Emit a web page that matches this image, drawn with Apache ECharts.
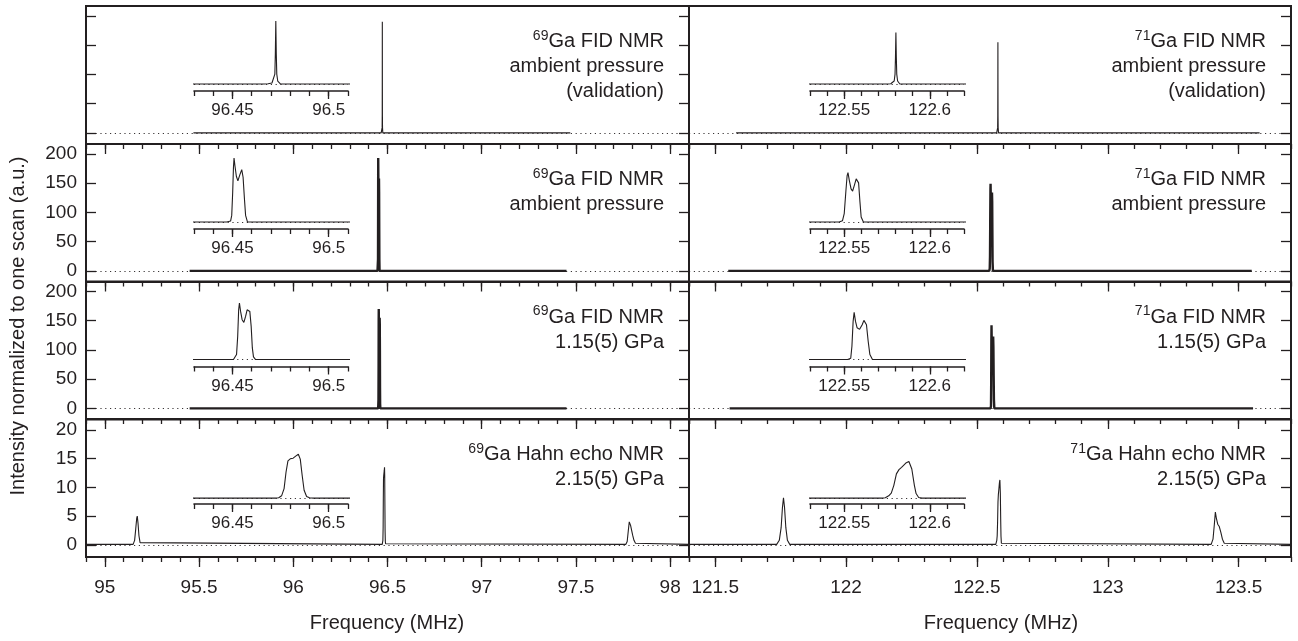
<!DOCTYPE html>
<html>
<head>
<meta charset="utf-8">
<script src="https://cdn.jsdelivr.net/npm/echarts@6/dist/echarts.min.js"></script>
<style>
  html, body { margin: 0; padding: 0; background: #fff; }
  #chart { width: 1298px; height: 641px; }
</style>
</head>
<body>
<div id="chart"></div>
<script>
// ---- axis extents and tick values (MHz / a.u.) ----
const ga69Range = [94.9, 98.1];
const ga71Range = [121.4, 123.7];
const ga69MajorTicks = [95, 95.5, 96, 96.5, 97, 97.5, 98];
const ga71MajorTicks = [121.5, 122, 122.5, 123, 123.5];
const ga69InsetRange = [96.43, 96.51];
const ga71InsetRange = [122.53, 122.62];
const ga69InsetLabels = [96.45, 96.5];
const ga71InsetLabels = [122.55, 122.6];
const fidRange = [-19, 217];
const echoRange = [-2.1, 21.9];
const fidTicks = [0, 50, 100, 150, 200];
const echoTicks = [0, 5, 10, 15, 20];
const fidInsetRange = [-21, 196];
const echoInsetRange = [-1.7, 20.3];

// ---- spectra: [frequency (MHz), intensity (a.u.)] ----
const ga69Valid = [
  [95.47, 0], [96.4665, 0], [96.4685, 1], [96.4705, 3], [96.4715, 9], [96.4720, 30], [96.47225, 90],
  [96.4725, 190], [96.47275, 90], [96.4730, 30], [96.4735, 9], [96.4750, 0], [97.47, 0]
];
const ga69Ambient = [
  [95.45, 0], [96.4470, 0], [96.4480, 1], [96.4490, 3], [96.4496, 20], [96.4501, 90], [96.4505, 165],
  [96.4508, 193], [96.4513, 168], [96.4520, 138], [96.4528, 124], [96.4538, 142],
  [96.4548, 158], [96.4555, 135], [96.4562, 70], [96.4568, 20], [96.4578, 0], [97.45, 0]
];
const ga69Gpa115 = [
  [95.45, 0], [96.4505, 0], [96.4515, 2], [96.4521, 15], [96.4527, 70], [96.4532, 150], [96.4536, 170],
  [96.4542, 145], [96.4550, 120], [96.4559, 112], [96.4568, 130], [96.4576, 150],
  [96.4583, 155], [96.4590, 145], [96.4597, 100], [96.4603, 35], [96.4609, 8], [96.4620, 0],
  [97.45, 0]
];
const ga69Echo = [
  [94.9, 0.1], [95.150, 0.1], [95.158, 0.8], [95.164, 2.8], [95.169, 4.6], [95.172, 5.0],
  [95.176, 3.8], [95.181, 1.6], [95.187, 0.4], [95.195, 0.1],
  [96.4720, 0.1], [96.4740, 0.2], [96.4755, 0.8], [96.4768, 3], [96.4778, 8], [96.4788, 11.5],
  [96.4800, 12.1], [96.4815, 12.3], [96.4830, 13.0], [96.4842, 13.5], [96.4852, 12], [96.4862, 7],
  [96.4872, 2.5], [96.4885, 0.6], [96.4900, 0.2], [96.4920, 0.1],
  [97.765, 0.1], [97.772, 0.6], [97.778, 2.5], [97.783, 4.0], [97.786, 4.3], [97.790, 3.4],
  [97.795, 2.6], [97.801, 1.7], [97.808, 0.8], [97.816, 0.3], [97.825, 0.1], [98.1, 0.1]
];
const ga71Valid = [
  [121.58, 0], [122.5755, 0], [122.5772, 1], [122.5782, 3], [122.5792, 9], [122.5797, 30], [122.57995, 80],
  [122.5802, 155], [122.58045, 80], [122.5807, 30], [122.5812, 9], [122.5825, 0], [123.58, 0]
];
const ga71Ambient = [
  [121.55, 0], [122.5470, 0], [122.5480, 1], [122.5490, 4], [122.5500, 25], [122.5510, 95], [122.5517, 140],
  [122.5522, 149], [122.5530, 125], [122.5540, 100], [122.5549, 93], [122.5560, 112],
  [122.5570, 130], [122.5576, 134], [122.5584, 118], [122.5592, 60], [122.5599, 15],
  [122.5612, 0], [123.55, 0]
];
const ga71Gpa115 = [
  [121.555, 0], [122.5520, 0], [122.5530, 1], [122.5538, 4], [122.5545, 40], [122.5552, 115], [122.5558, 142],
  [122.5566, 115], [122.5575, 96], [122.5590, 91], [122.5605, 105], [122.5615, 118],
  [122.5621, 123], [122.5630, 105], [122.5640, 55], [122.5650, 15], [122.5665, 0], [123.555, 0]
];
const ga71Echo = [
  [121.4, 0.1], [121.735, 0.1], [121.745, 0.8], [121.752, 3], [121.757, 6.5], [121.761, 8.2],
  [121.765, 6.5], [121.770, 3], [121.776, 0.8], [121.785, 0.1],
  [122.5720, 0.1], [122.5740, 0.2], [122.5760, 0.8], [122.5775, 1.6], [122.5790, 4], [122.5805, 7.5],
  [122.5820, 8.8], [122.5835, 9.5], [122.5860, 10.8], [122.5878, 11.3], [122.5895, 9],
  [122.5910, 4], [122.5920, 1.5], [122.5935, 0.3], [122.5955, 0.1],
  [123.395, 0.1], [123.402, 1], [123.407, 3.5], [123.411, 5.7], [123.415, 4.6], [123.420, 3.6],
  [123.426, 3.2], [123.432, 2.2], [123.438, 1.0], [123.445, 0.3], [123.452, 0.1], [123.7, 0.1]
];

// ---- panel captions ----
const isotopes = ['69', '71'];
const captions = [
  ['Ga FID NMR', 'ambient pressure', '(validation)'],
  ['Ga FID NMR', 'ambient pressure'],
  ['Ga FID NMR', '1.15(5) GPa'],
  ['Ga Hahn echo NMR', '2.15(5) GPa']
];
const yAxisTitle = 'Intensity normalized to one scan (a.u.)';
const xAxisTitle = 'Frequency (MHz)';

// ---- layout ----
const FONT = '"Liberation Sans", Arial, Helvetica, sans-serif';
const INK = '#231f20';
const ROW_TOPS = [6, 144, 281.5, 419];
const ROW_H = 138;
const COL_LEFT = [86, 689];
const COL_W = [603, 602];
const INSET_LEFT = [194, 810];
const INSET_W = 154;
const INSET_AXIS_OFFSET = 85;
const INSET_H = 72;

const rows = [
  { spectra: [ga69Valid, ga71Valid], yRange: fidRange, yTicks: fidTicks, yLabels: false, lineW: 1.1, insetY: fidInsetRange },
  { spectra: [ga69Ambient, ga71Ambient], yRange: fidRange, yTicks: fidTicks, yLabels: true, lineW: 2.4, insetY: fidInsetRange },
  { spectra: [ga69Gpa115, ga71Gpa115], yRange: fidRange, yTicks: fidTicks, yLabels: true, lineW: 2.4, insetY: fidInsetRange },
  { spectra: [ga69Echo, ga71Echo], yRange: echoRange, yTicks: echoTicks, yLabels: true, lineW: 1.1, insetY: echoInsetRange }
];
const cols = [
  { range: ga69Range, majors: ga69MajorTicks, insetRange: ga69InsetRange, insetLabels: ga69InsetLabels },
  { range: ga71Range, majors: ga71MajorTicks, insetRange: ga71InsetRange, insetLabels: ga71InsetLabels }
];

const grids = [], xAxes = [], yAxes = [], series = [], graphics = [];
const tickStyle = { color: INK, width: 1.3 };

function addGrid(left, top, width, height, framed) {
  grids.push({
    left, top, width, height, containLabel: false,
    show: framed, borderColor: INK, borderWidth: 2, backgroundColor: 'transparent'
  });
  return grids.length - 1;
}
function addX(gridIndex, range, extra) {
  xAxes.push(Object.assign({
    type: 'value', gridIndex, min: range[0], max: range[1],
    axisLine: { show: false, onZero: false }, splitLine: { show: false },
    axisTick: { show: false }, axisLabel: { show: false }
  }, extra || {}));
  return xAxes.length - 1;
}
function addY(gridIndex, range, extra) {
  yAxes.push(Object.assign({
    type: 'value', gridIndex, min: range[0], max: range[1],
    axisLine: { show: false, onZero: false }, splitLine: { show: false },
    axisTick: { show: false }, axisLabel: { show: false }
  }, extra || {}));
  return yAxes.length - 1;
}
const zeroLine = (w) => ({
  silent: true, symbol: 'none', animation: false,
  label: { show: false },
  lineStyle: { type: [1.2, 3.6], color: INK, width: w, opacity: 0.9 },
  emphasis: { disabled: true },
  data: [{ yAxis: 0 }]
});

rows.forEach((row, r) => {
  cols.forEach((col, c) => {
    // main panel
    const g = addGrid(COL_LEFT[c], ROW_TOPS[r], COL_W[c], ROW_H, true);
    const xi = addX(g, col.range);
    if (r > 0) {
      addX(g, col.range, { position: 'top', interval: 0.1,
        axisTick: { show: true, inside: true, length: 5, lineStyle: tickStyle } });
      addX(g, col.range, { position: 'top',
        axisTick: { show: true, inside: true, length: 10, customValues: col.majors, lineStyle: tickStyle } });
    }
    if (r === 3) {
      addX(g, col.range, { position: 'bottom', interval: 0.1,
        axisTick: { show: true, inside: false, length: 5, lineStyle: tickStyle } });
      addX(g, col.range, { position: 'bottom',
        axisTick: { show: true, inside: false, length: 10, customValues: col.majors, lineStyle: tickStyle },
        axisLabel: { show: true, customValues: col.majors, margin: 21, color: INK, fontSize: 19, fontFamily: FONT } });
    }
    let yi;
    if (c === 0) {
      yi = addY(g, row.yRange, { position: 'left',
        axisTick: { show: true, inside: true, length: 10, customValues: row.yTicks, lineStyle: tickStyle },
        axisLabel: { show: row.yLabels, customValues: row.yTicks, margin: 9, color: INK, fontSize: 19, fontFamily: FONT } });
      addY(g, row.yRange, { position: 'right',
        axisTick: { show: true, inside: true, length: 10, customValues: row.yTicks, lineStyle: tickStyle } });
    } else {
      yi = addY(g, row.yRange, { position: 'right',
        axisTick: { show: true, inside: true, length: 10, customValues: row.yTicks, lineStyle: tickStyle } });
    }
    series.push({
      type: 'line', xAxisIndex: xi, yAxisIndex: yi, data: row.spectra[c],
      showSymbol: false, symbol: 'none', smooth: false, silent: true,
      lineStyle: { color: INK, width: row.lineW },
      markLine: zeroLine(1), z: 3
    });

    // inset
    const ig = addGrid(INSET_LEFT[c], ROW_TOPS[r] + INSET_AXIS_OFFSET - INSET_H, INSET_W, INSET_H, false);
    const ixi = addX(ig, col.insetRange, { position: 'bottom', interval: 0.01,
      axisLine: { show: true, onZero: false, lineStyle: { color: INK, width: 1.6 } },
      axisTick: { show: true, inside: false, length: 5, lineStyle: tickStyle } });
    addX(ig, col.insetRange, { position: 'bottom',
      axisTick: { show: true, inside: false, length: 8, customValues: col.insetLabels, lineStyle: tickStyle },
      axisLabel: { show: true, customValues: col.insetLabels, margin: 11, color: INK, fontSize: 17, fontFamily: FONT } });
    const iyi = addY(ig, row.insetY, { show: false });
    series.push({
      type: 'line', xAxisIndex: ixi, yAxisIndex: iyi, data: row.spectra[c],
      showSymbol: false, symbol: 'none', smooth: false, silent: true, clip: true,
      lineStyle: { color: INK, width: 1.1 },
      markLine: zeroLine(1), z: 4
    });

    // caption
    const lines = captions[r];
    const text = '{sup|' + isotopes[c] + '}{m|' + lines[0] + '}' +
      lines.slice(1).map(s => '\n{m|' + s + '}').join('');
    graphics.push({
      type: 'text', x: COL_LEFT[c] + COL_W[c] - 25, y: ROW_TOPS[r] + 23, z: 100, silent: true,
      style: {
        text, align: 'right', verticalAlign: 'top', fill: INK,
        fontFamily: FONT, fontSize: 20,
        rich: {
          sup: { fontSize: 14, lineHeight: 14, verticalAlign: 'top', align: 'right', fill: INK, fontFamily: FONT },
          m: { fontSize: 20, lineHeight: 25, align: 'right', fill: INK, fontFamily: FONT }
        }
      }
    });
  });
});

graphics.push({
  type: 'text', x: 18, y: 326, rotation: Math.PI / 2, z: 100, silent: true,
  style: { text: yAxisTitle, align: 'center', verticalAlign: 'middle', fill: INK, fontFamily: FONT, fontSize: 20 }
});
[387, 1001].forEach(cx => graphics.push({
  type: 'text', x: cx, y: 623, z: 100, silent: true,
  style: { text: xAxisTitle, align: 'center', verticalAlign: 'middle', fill: INK, fontFamily: FONT, fontSize: 20 }
}));

const chart = echarts.init(document.getElementById('chart'), null, { renderer: 'canvas' });
chart.setOption({
  animation: false,
  backgroundColor: '#ffffff',
  textStyle: { fontFamily: FONT, color: INK },
  grid: grids,
  xAxis: xAxes,
  yAxis: yAxes,
  series,
  graphic: { elements: graphics }
});
</script>
</body>
</html>
